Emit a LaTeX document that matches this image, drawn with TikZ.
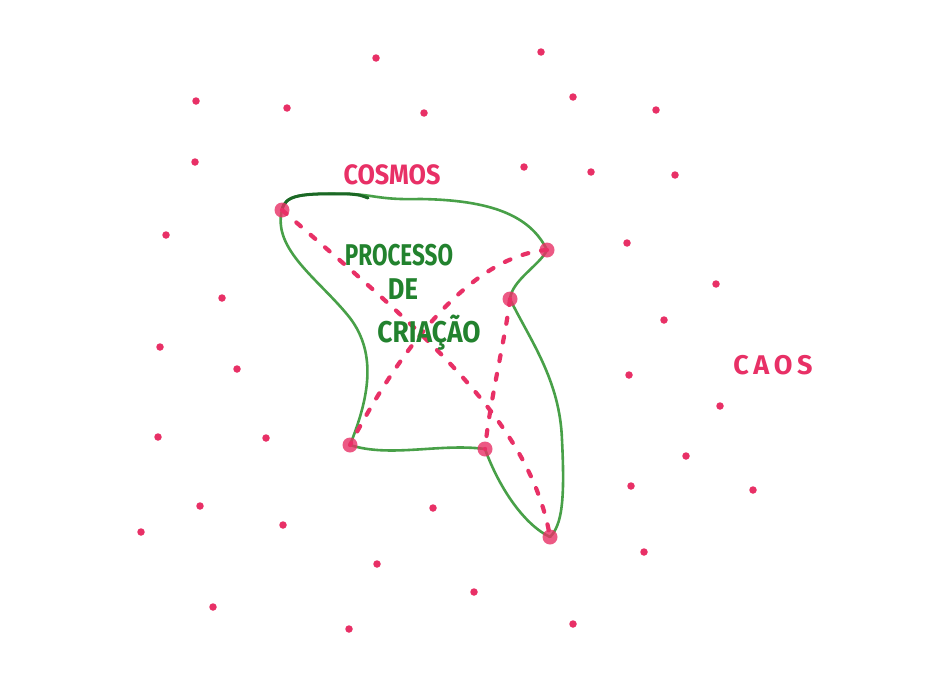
\documentclass[tikz,border=0pt]{standalone}
\usepackage{fontspec}
\setmainfont{Fira Sans}
\definecolor{pinkink}{RGB}{232,48,102}
\definecolor{greenink}{RGB}{34,130,46}
\definecolor{greenline}{RGB}{72,160,72}
\begin{document}
\begin{tikzpicture}[x=1pt,y=-1pt,
  dot/.style={circle,fill=pinkink,inner sep=0pt,minimum size=7.5pt},
  vertex/.style={circle,fill=pinkink,fill opacity=0.8,inner sep=0pt,minimum size=15pt},
  dashline/.style={pinkink,line width=4.2pt,line cap=round,dash pattern=on 6pt off 13pt},
  outline/.style={greenline,line width=2.6pt,line join=round},
  pinklabel/.style={text=pinkink,font=\fontsize{28}{30}\selectfont\bfseries,anchor=base,inner sep=0pt},
  greenlabel/.style={text=greenink,font=\fontsize{30}{32}\selectfont\bfseries,anchor=base,inner sep=0pt}]
\useasboundingbox (0,0) rectangle (935,696);
\fill[white] (0,0) rectangle (935,696);
% vertices
\coordinate (A) at (282,210);
\coordinate (B) at (547,250);
\coordinate (C) at (510,299);
\coordinate (D) at (350,445);
\coordinate (E) at (485,449);
\coordinate (F) at (550,537);
% outline
\draw[outline] (A) .. controls (285,195) and (300,193) .. (350,194)
  .. controls (375,195) and (380,200) .. (420,199)
  .. controls (490,200) and (530,215) .. (B)
  .. controls (540,265) and (512,280) .. (C)
  .. controls (530,340) and (560,380) .. (562,440)
  .. controls (565,500) and (562,525) .. (F)
  .. controls (525,525) and (500,490) .. (E)
  .. controls (440,443) and (390,458) .. (D)
  .. controls (368,400) and (378,355) .. (350,318)
  .. controls (320,280) and (272,250) .. (A);
\draw[greenink!80!black,line width=3pt,line cap=round] (A) .. controls (285,195) and (300,193) .. (350,194) .. controls (360,195) .. (368,198);
% dashed connections
\draw[dashline] (A) .. controls (420,330) and (530,420) .. (F);
\draw[dashline] (B) .. controls (480,255) and (410,330) .. (D);
\draw[dashline] (C) .. controls (505,340) and (490,400) .. (E);
% vertex dots
\foreach \v in {A,B,C,D,E,F} \node[vertex] (v\v) at (\v) {};
% scattered dots
\foreach \x/\y [count=\i] in {376/58,541/52,196/101,287/108,424/113,573/97,656/110,195/162,524/167,591/172,675/175,166/235,627/243,222/298,716/284,664/320,160/347,237/369,629/375,720/406,158/437,266/438,686/456,631/486,753/490,200/506,141/532,283/525,433/508,644/552,377/564,213/607,474/592,349/629,573/624}
  \node[dot] (d\i) at (\x,\y) {};
% labels
\node[pinklabel] (cosmos) at (392,184) {\scalebox{0.9}[1]{COSMOS}};
\node[pinklabel,font=\fontsize{27}{30}\selectfont\bfseries] (caos) at (773,374) {C\,A\,O\,S};
\node[greenlabel] (t1) at (399,265) {\scalebox{0.75}[1]{PROCESSO}};
\node[greenlabel] (t2) at (403,299) {\scalebox{0.85}[1]{DE}};
\node[greenlabel] (t3) at (429,342) {\scalebox{0.88}[1]{CRIAÇÃO}};
\end{tikzpicture}
\end{document}
